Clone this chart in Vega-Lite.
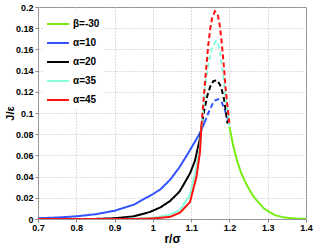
{
  "$schema": "https://vega.github.io/schema/vega-lite/v6.json",
  "width": 268,
  "height": 212,
  "autosize": "none",
  "padding": {"left": 38, "top": 7, "right": 10, "bottom": 27},
  "background": "white",
  "config": {
    "font": "Liberation Sans",
    "view": {"stroke": "#888888", "strokeWidth": 1}
  },
  "data": {
    "values": [
      {"s":"α=10","t":"solid","r":0.70,"j":0.0007},
      {"s":"α=10","t":"solid","r":0.75,"j":0.0014},
      {"s":"α=10","t":"solid","r":0.80,"j":0.0025},
      {"s":"α=10","t":"solid","r":0.85,"j":0.0045},
      {"s":"α=10","t":"solid","r":0.90,"j":0.0078},
      {"s":"α=10","t":"solid","r":0.95,"j":0.0135},
      {"s":"α=10","t":"solid","r":1.00,"j":0.0235},
      {"s":"α=10","t":"solid","r":1.02,"j":0.028},
      {"s":"α=10","t":"solid","r":1.045,"j":0.037},
      {"s":"α=10","t":"solid","r":1.07,"j":0.049},
      {"s":"α=10","t":"solid","r":1.097,"j":0.065},
      {"s":"α=10","t":"solid","r":1.11,"j":0.073},
      {"s":"α=10","t":"solid","r":1.123,"j":0.081},
      {"s":"α=10","t":"solid","r":1.135,"j":0.091},
      {"s":"α=10","t":"dashed","r":1.135,"j":0.091},
      {"s":"α=10","t":"dashed","r":1.145,"j":0.100},
      {"s":"α=10","t":"dashed","r":1.155,"j":0.108},
      {"s":"α=10","t":"dashed","r":1.163,"j":0.112},
      {"s":"α=10","t":"dashed","r":1.171,"j":0.113},
      {"s":"α=10","t":"dashed","r":1.18,"j":0.110},
      {"s":"α=10","t":"dashed","r":1.188,"j":0.103},
      {"s":"α=10","t":"dashed","r":1.195,"j":0.095},
      {"s":"α=10","t":"dashed","r":1.20,"j":0.089},

      {"s":"α=20","t":"solid","r":0.70,"j":0.0},
      {"s":"α=20","t":"solid","r":0.80,"j":0.0},
      {"s":"α=20","t":"solid","r":0.85,"j":0.0001},
      {"s":"α=20","t":"solid","r":0.90,"j":0.0007},
      {"s":"α=20","t":"solid","r":0.95,"j":0.0025},
      {"s":"α=20","t":"solid","r":0.992,"j":0.0066},
      {"s":"α=20","t":"solid","r":1.02,"j":0.011},
      {"s":"α=20","t":"solid","r":1.045,"j":0.017},
      {"s":"α=20","t":"solid","r":1.07,"j":0.026},
      {"s":"α=20","t":"solid","r":1.097,"j":0.043},
      {"s":"α=20","t":"solid","r":1.11,"j":0.055},
      {"s":"α=20","t":"solid","r":1.123,"j":0.076},
      {"s":"α=20","t":"solid","r":1.129,"j":0.092},
      {"s":"α=20","t":"dashed","r":1.129,"j":0.092},
      {"s":"α=20","t":"dashed","r":1.135,"j":0.104},
      {"s":"α=20","t":"dashed","r":1.142,"j":0.116},
      {"s":"α=20","t":"dashed","r":1.15,"j":0.125},
      {"s":"α=20","t":"dashed","r":1.158,"j":0.130},
      {"s":"α=20","t":"dashed","r":1.167,"j":0.131},
      {"s":"α=20","t":"dashed","r":1.175,"j":0.127},
      {"s":"α=20","t":"dashed","r":1.18,"j":0.122},
      {"s":"α=20","t":"dashed","r":1.186,"j":0.113},
      {"s":"α=20","t":"dashed","r":1.19,"j":0.103},
      {"s":"α=20","t":"dashed","r":1.195,"j":0.090},

      {"s":"α=35","t":"solid","r":0.70,"j":0.0},
      {"s":"α=35","t":"solid","r":0.90,"j":0.0},
      {"s":"α=35","t":"solid","r":0.95,"j":0.0002},
      {"s":"α=35","t":"solid","r":1.00,"j":0.0012},
      {"s":"α=35","t":"solid","r":1.045,"j":0.004},
      {"s":"α=35","t":"solid","r":1.071,"j":0.0085},
      {"s":"α=35","t":"solid","r":1.097,"j":0.023},
      {"s":"α=35","t":"solid","r":1.114,"j":0.049},
      {"s":"α=35","t":"solid","r":1.123,"j":0.068},
      {"s":"α=35","t":"solid","r":1.128,"j":0.090},
      {"s":"α=35","t":"dashed","r":1.128,"j":0.090},
      {"s":"α=35","t":"dashed","r":1.134,"j":0.112},
      {"s":"α=35","t":"dashed","r":1.14,"j":0.135},
      {"s":"α=35","t":"dashed","r":1.148,"j":0.152},
      {"s":"α=35","t":"dashed","r":1.155,"j":0.162},
      {"s":"α=35","t":"dashed","r":1.165,"j":0.168},
      {"s":"α=35","t":"dashed","r":1.17,"j":0.166},
      {"s":"α=35","t":"dashed","r":1.175,"j":0.158},
      {"s":"α=35","t":"dashed","r":1.18,"j":0.145},
      {"s":"α=35","t":"dashed","r":1.185,"j":0.131},
      {"s":"α=35","t":"dashed","r":1.19,"j":0.115},
      {"s":"α=35","t":"dashed","r":1.195,"j":0.101},
      {"s":"α=35","t":"dashed","r":1.20,"j":0.088},

      {"s":"α=45","t":"solid","r":0.70,"j":0.0},
      {"s":"α=45","t":"solid","r":0.95,"j":0.0},
      {"s":"α=45","t":"solid","r":1.00,"j":0.0005},
      {"s":"α=45","t":"solid","r":1.045,"j":0.002},
      {"s":"α=45","t":"solid","r":1.071,"j":0.006},
      {"s":"α=45","t":"solid","r":1.097,"j":0.016},
      {"s":"α=45","t":"solid","r":1.114,"j":0.040},
      {"s":"α=45","t":"solid","r":1.123,"j":0.063},
      {"s":"α=45","t":"solid","r":1.127,"j":0.088},
      {"s":"α=45","t":"dashed","r":1.127,"j":0.088},
      {"s":"α=45","t":"dashed","r":1.132,"j":0.110},
      {"s":"α=45","t":"dashed","r":1.136,"j":0.128},
      {"s":"α=45","t":"dashed","r":1.14,"j":0.145},
      {"s":"α=45","t":"dashed","r":1.145,"j":0.165},
      {"s":"α=45","t":"dashed","r":1.15,"j":0.180},
      {"s":"α=45","t":"dashed","r":1.155,"j":0.190},
      {"s":"α=45","t":"dashed","r":1.162,"j":0.196},
      {"s":"α=45","t":"dashed","r":1.17,"j":0.192},
      {"s":"α=45","t":"dashed","r":1.175,"j":0.182},
      {"s":"α=45","t":"dashed","r":1.18,"j":0.166},
      {"s":"α=45","t":"dashed","r":1.185,"j":0.146},
      {"s":"α=45","t":"dashed","r":1.19,"j":0.123},
      {"s":"α=45","t":"dashed","r":1.195,"j":0.106},
      {"s":"α=45","t":"dashed","r":1.20,"j":0.090},

      {"s":"β=-30","t":"solid","r":1.20,"j":0.087},
      {"s":"β=-30","t":"solid","r":1.21,"j":0.069},
      {"s":"β=-30","t":"solid","r":1.22,"j":0.055},
      {"s":"β=-30","t":"solid","r":1.23,"j":0.044},
      {"s":"β=-30","t":"solid","r":1.24,"j":0.036},
      {"s":"β=-30","t":"solid","r":1.25,"j":0.029},
      {"s":"β=-30","t":"solid","r":1.26,"j":0.023},
      {"s":"β=-30","t":"solid","r":1.27,"j":0.018},
      {"s":"β=-30","t":"solid","r":1.28,"j":0.014},
      {"s":"β=-30","t":"solid","r":1.29,"j":0.010},
      {"s":"β=-30","t":"solid","r":1.30,"j":0.0075},
      {"s":"β=-30","t":"solid","r":1.32,"j":0.0035},
      {"s":"β=-30","t":"solid","r":1.34,"j":0.0017},
      {"s":"β=-30","t":"solid","r":1.36,"j":0.0008},
      {"s":"β=-30","t":"solid","r":1.38,"j":0.0003},
      {"s":"β=-30","t":"solid","r":1.40,"j":0.0001}
    ]
  },
  "mark": {"type": "line", "strokeWidth": 2, "clip": true},
  "encoding": {
    "x": {
      "field": "r", "type": "quantitative",
      "scale": {"domain": [0.7, 1.4], "nice": false, "zero": false},
      "axis": {
        "values": [0.7, 0.8, 0.9, 1.0, 1.1, 1.2, 1.3, 1.4],
        "format": ".1~f",
        "title": "r/σ",
        "titleFontSize": 12, "titleFontWeight": "bold", "titleColor": "#000",
        "titlePadding": 1,
        "labelFontSize": 9, "labelFontWeight": "bold", "labelColor": "#000",
        "labelPadding": 1,
        "grid": true, "gridDash": [1, 2], "gridColor": "#bbbbbb",
        "domain": false, "tickColor": "#888888", "tickSize": 3,
        "labelFlush": false
      }
    },
    "y": {
      "field": "j", "type": "quantitative",
      "scale": {"domain": [0, 0.2], "nice": false},
      "axis": {
        "values": [0, 0.02, 0.04, 0.06, 0.08, 0.1, 0.12, 0.14, 0.16, 0.18, 0.2],
        "format": ".2~f",
        "title": "J/ε",
        "titleFontSize": 11, "titleFontWeight": "bold", "titleColor": "#000",
        "titlePadding": 0,
        "labelFontSize": 9, "labelFontWeight": "bold", "labelColor": "#000",
        "labelPadding": 2,
        "grid": true, "gridDash": [1, 2], "gridColor": "#bbbbbb",
        "domain": false, "tickColor": "#888888", "tickSize": 3,
        "labelFlush": false
      }
    },
    "color": {
      "field": "s", "type": "nominal",
      "scale": {
        "domain": ["β=-30", "α=10", "α=20", "α=35", "α=45"],
        "range": ["#77ee11", "#3355ff", "#000000", "#88ffdd", "#ff1111"]
      },
      "legend": {
        "title": null,
        "orient": "none",
        "legendX": 5,
        "legendY": 2,
        "fillColor": "white",
        "padding": 3,
        "symbolType": "stroke",
        "symbolSize": 480,
        "symbolStrokeWidth": 2,
        "labelFontSize": 10,
        "labelFontWeight": "bold",
        "labelColor": "#000",
        "rowPadding": 2,
        "labelOffset": 3
      }
    },
    "strokeDash": {
      "field": "t", "type": "nominal",
      "scale": {"domain": ["solid", "dashed"], "range": [[1, 0], [5, 3]]},
      "legend": null
    }
  }
}
